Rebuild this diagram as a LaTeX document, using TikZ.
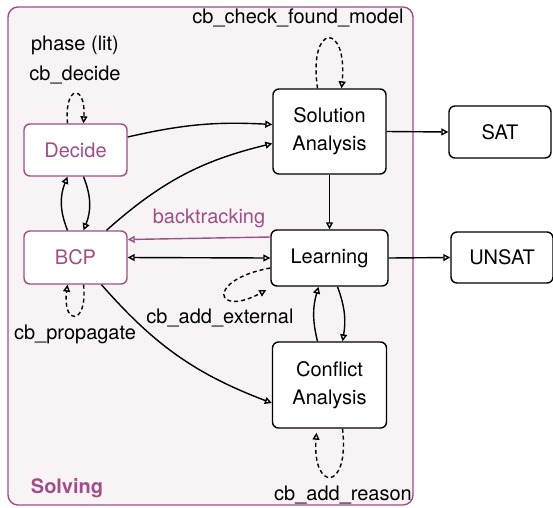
\documentclass[tikz,border=0pt]{standalone}
\usepackage{fontspec}
\setmainfont{TeX Gyre Heros}
\usetikzlibrary{arrows.meta,calc}
\definecolor{solvpurple}{RGB}{160,78,135}
\definecolor{solvbg}{RGB}{248,244,246}
\tikzset{
  box/.style={draw=black,line width=1.4pt,rounded corners=6pt,fill=white,align=center,inner sep=0pt,font=\fontsize{20}{24}\selectfont},
  pbox/.style={box,draw=solvpurple,text=solvpurple},
  lbl/.style={font=\fontsize{20}{24}\selectfont,inner sep=0pt},
  conn/.style={line width=1.4pt,-{Triangle[open,length=7pt,width=7pt]}},
  loopc/.style={conn,dashed,dash pattern=on 4pt off 3pt},
}
\begin{document}
\begin{tikzpicture}[x=1pt,y=-1pt]
\useasboundingbox (0,0) rectangle (553,507);
\draw[solvpurple,fill=solvbg,line width=1.4pt,rounded corners=10pt] (8,7) rectangle (413,505);
\node[lbl,font=\fontsize{20}{24}\selectfont\bfseries,text=solvpurple] (solving) at (67,488) {Solving};

\node[pbox,minimum width=103pt,minimum height=52pt] (dec) at (75.5,150) {Decide};
\node[pbox,minimum width=103pt,minimum height=53pt] (bcp) at (75.5,257.5) {BCP};
\node[box,minimum width=113pt,minimum height=85pt] (sa) at (329.5,131.5) {Solution\\[4pt]Analysis};
\node[box,minimum width=102pt,minimum height=52pt] (sat) at (500,132) {SAT};
\node[box,minimum width=117pt,minimum height=56pt] (lrn) at (329.5,258) {Learning};
\node[box,minimum width=102pt,minimum height=51pt] (unsat) at (502,257.5) {UNSAT};
\node[box,minimum width=114pt,minimum height=86pt] (ca) at (329.5,385) {Conflict\\[4pt]Analysis};

\node[lbl] (phase) at (75,45) {phase (lit)};
\node[lbl] (cbdec) at (75,75) {cb\_decide};
\node[lbl] (cbcheck) at (298,18) {cb\_check\_found\_model};
\node[lbl,text=solvpurple] (bt) at (209,218) {backtracking};
\node[lbl] (cbext) at (220,318) {cb\_add\_external};
\node[lbl] (cbprop) at (75,334) {cb\_propagate};
\node[lbl] (cbreas) at (343,495) {cb\_add\_reason};

% main connectors
\draw[conn] ([yshift=13pt]dec.east) to[bend left=8] ([yshift=7pt]sa.west);
\draw[conn] ([xshift=31pt]bcp.north) to[bend left=14] ([yshift=-12pt]sa.west);
\draw[conn] ([xshift=8pt]dec.south) to[bend left=22] ([xshift=8pt]bcp.north);
\draw[conn] ([xshift=-8pt]bcp.north) to[bend left=22] ([xshift=-8pt]dec.south);
\draw[conn,solvpurple] ([yshift=21pt]lrn.west) -- ([yshift=18pt]bcp.east);
\draw[line width=1.4pt,{Triangle[open,length=7pt,width=7pt]}-{Triangle[open,length=7pt,width=7pt]}] (bcp.east) -- (lrn.west);
\draw[conn] (sa.east) -- (sat.west);
\draw[conn] (sa.south) -- (lrn.north);
\draw[conn] (lrn.east) -- (unsat.west);
\draw[conn] ([xshift=26pt]bcp.south) to[bend right=14] ([yshift=-18pt]ca.west);
\draw[conn] ([xshift=-12pt]ca.north) to[bend left=15] ([xshift=-11pt]lrn.south);
\draw[conn] ([xshift=8pt]lrn.south) to[bend left=15] ([xshift=13pt]ca.north);

% dashed loops
\draw[loopc] ([xshift=-8pt]dec.north) .. controls (64,84) and (86,84) .. ([xshift=8pt]dec.north);
\draw[loopc] ([xshift=-12pt]sa.north) .. controls (308,22) and (348,22) .. ([xshift=12pt]sa.north);
\draw[loopc] ([xshift=8pt]bcp.south) .. controls (88,326) and (62,326) .. ([xshift=-8pt]bcp.south);
\draw[loopc] ([xshift=13pt]ca.south) .. controls (350,492) and (312,492) .. ([xshift=-13pt,yshift=-4pt]ca.south);
\draw[loopc] ([yshift=-10pt]lrn.west) .. controls (205,280) and (215,318) .. ([xshift=-4pt,yshift=-32pt]lrn.west);
\end{tikzpicture}
\end{document}
